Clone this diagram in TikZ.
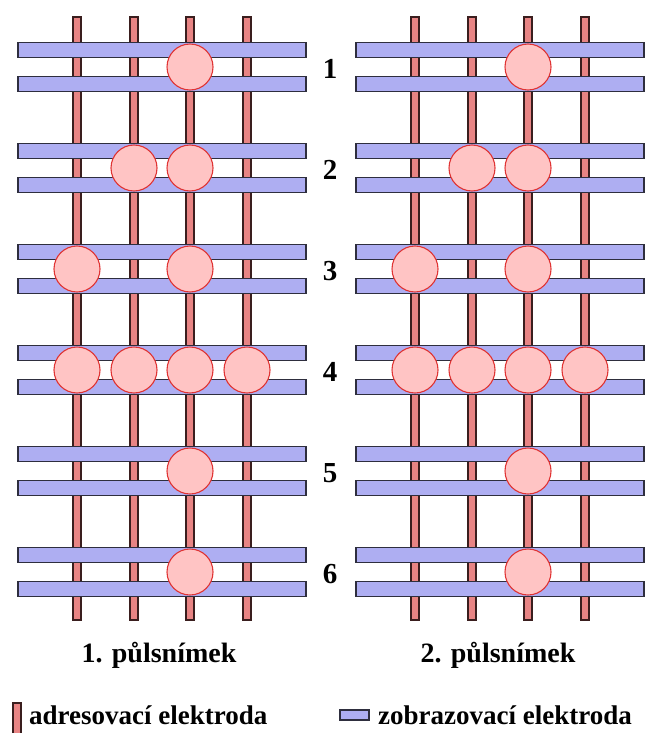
\documentclass[tikz,border=0pt]{standalone}
\usepackage{fontspec}
\setmainfont{Liberation Serif}
\definecolor{hbar}{HTML}{AEAEF2}
\definecolor{hline}{HTML}{2E2E3E}
\definecolor{vbar}{HTML}{E88484}
\definecolor{vline}{HTML}{3A1E1E}
\definecolor{cfill}{HTML}{FFC4C4}
\definecolor{cline}{HTML}{E03434}
\tikzset{
  hbarstyle/.style={fill=hbar,draw=hline,line width=1.2pt},
  vbarstyle/.style={fill=vbar,draw=vline,line width=1.1pt},
  cellstyle/.style={circle,fill=cfill,draw=cline,line width=1.1pt,minimum size=46pt,inner sep=0pt},
  numstyle/.style={font=\bfseries\fontsize{29}{29}\selectfont,inner sep=0pt},
  titlestyle/.style={font=\bfseries\fontsize{28}{28}\selectfont,inner sep=0pt},
  legstyle/.style={font=\bfseries\fontsize{27}{27}\selectfont,inner sep=0pt,anchor=west}
}
\begin{document}
\begin{tikzpicture}[x=1pt,y=-1pt]
\useasboundingbox (0,0) rectangle (652,733);
% vertical (addressing) electrodes
\foreach \off in {0,338}{
  \foreach \xx in {77,134,190,247}{
    \draw[vbarstyle] ({\xx+\off-4},17) rectangle ({\xx+\off+4},620);
  }
}
% horizontal (display) electrodes
\foreach \off in {0,338}{
  \foreach \i in {0,...,5}{
    \pgfmathsetmacro{\cy}{67+101*\i}
    \draw[hbarstyle] ({18+\off},{\cy-24.5}) rectangle ({306+\off},{\cy-9.5});
    \draw[hbarstyle] ({18+\off},{\cy+9.5}) rectangle ({306+\off},{\cy+24.5});
  }
}
% cells
\foreach \off/\p in {0/L,338/R}{
  \node[cellstyle] (\p a3) at ({190+\off},67) {};
  \node[cellstyle] (\p b2) at ({134+\off},168) {};
  \node[cellstyle] (\p b3) at ({190+\off},168) {};
  \node[cellstyle] (\p c1) at ({77+\off},269) {};
  \node[cellstyle] (\p c3) at ({190+\off},269) {};
  \node[cellstyle] (\p d1) at ({77+\off},370) {};
  \node[cellstyle] (\p d2) at ({134+\off},370) {};
  \node[cellstyle] (\p d3) at ({190+\off},370) {};
  \node[cellstyle] (\p d4) at ({247+\off},370) {};
  \node[cellstyle] (\p e3) at ({190+\off},471) {};
  \node[cellstyle] (\p f3) at ({190+\off},572) {};
}
% row numbers
\foreach \i in {1,...,6}{
  \node[numstyle] (n\i) at (330,{69+101*(\i-1)}) {\i};
}
% titles
\node[titlestyle] (t1) at (159,655) {1. půlsnímek};
\node[titlestyle] (t2) at (498,655) {2. půlsnímek};
% legend
\draw[vbarstyle] (13,703) rectangle (21,740);
\node[legstyle] (l1) at (29,715) {adresovací elektroda};
\draw[hbarstyle] (340,710) rectangle (369,720);
\node[legstyle] (l2) at (378,715) {zobrazovací elektroda};
\end{tikzpicture}
\end{document}
